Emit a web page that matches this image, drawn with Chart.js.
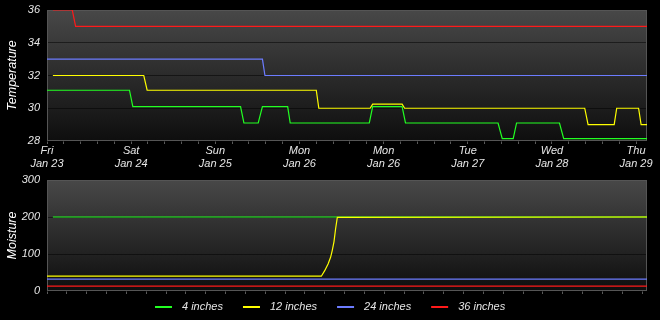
<!DOCTYPE html>
<html>
<head>
<meta charset="utf-8">
<script src="https://cdn.jsdelivr.net/npm/chart.js@4.4.1/dist/chart.umd.min.js"></script>
<style>
    html, body { margin: 0; padding: 0; background: #000; overflow: hidden; }
    #wrap { position: relative; width: 660px; height: 320px; }
    canvas { position: absolute; left: 0; }
    #tempChart { top: 0; }
    #moistChart { top: 170px; }
</style>
</head>
<body>
<div id="wrap">
    <canvas id="tempChart" width="660" height="170"></canvas>
    <canvas id="moistChart" width="660" height="150"></canvas>
</div>
<script>
const dayNames = ['Fri', 'Sat', 'Sun', 'Mon', 'Mon', 'Tue', 'Wed', 'Thu'];
const dayDates = ['Jan 23', 'Jan 24', 'Jan 25', 'Jan 26', 'Jan 26', 'Jan 27', 'Jan 28', 'Jan 29'];
const seriesNames = ['4 inches', '12 inches', '24 inches', '36 inches'];
const seriesColors = ['#22ff22', '#ffff00', '#6c7cff', '#ff1a1a'];

const tempTicks = [28, 30, 32, 34, 36];
const moistTicks = [0, 100, 200, 300];

// x = days since Fri Jan 23 00:00
const temp4Days = [0, 0.98, 1.02, 2.30, 2.34, 2.51, 2.56, 2.86, 2.89, 3.83, 3.87, 4.22, 4.26, 5.36, 5.41, 5.54, 5.58, 6.09, 6.14, 7.13];
const temp4Vals = [31.1, 31.1, 30.1, 30.1, 29.1, 29.1, 30.1, 30.1, 29.1, 29.1, 30.1, 30.1, 29.1, 29.1, 28.15, 28.15, 29.1, 29.1, 28.15, 28.15];
const temp12Days = [0.07, 1.15, 1.19, 3.20, 3.23, 3.84, 3.87, 4.22, 4.25, 6.39, 6.43, 6.74, 6.77, 7.03, 7.06, 7.13];
const temp12Vals = [32, 32, 31.1, 31.1, 30, 30, 30.25, 30.25, 30, 30, 29, 29, 30, 30, 29, 29];
const temp24Days = [0, 2.56, 2.59, 7.13];
const temp24Vals = [33, 33, 32, 32];
const temp36Days = [0.07, 0.30, 0.34, 7.13];
const temp36Vals = [36, 36, 35, 35];

const moist4Days = [0.07, 7.13];
const moist4Vals = [200, 200];
const moist12Days = [0, 3.26, 3.30, 3.34, 3.37, 3.39, 3.41, 3.43, 3.45, 7.13];
const moist12Vals = [40, 40, 55, 73, 91, 110, 133, 169, 199, 200];
const moist24Days = [0, 7.13];
const moist24Vals = [32, 32];
const moist36Days = [0, 7.13];
const moist36Vals = [13, 13];

const DAY_END = 7.13;
const TEMP_TICK_STEP = 0.2;     // minor tick every fifth of a day
const MOIST_TICK_STEP = 0.2357;

const FONT_FAMILY = "'Liberation Sans', Arial, sans-serif";
const LABEL_FONT = { family: FONT_FAMILY, style: 'italic', size: 11 };
const TITLE_FONT = { family: FONT_FAMILY, style: 'italic', size: 12.5 };
const TEXT_COLOR = '#e6e6e6';

const LEGEND_LINE = 17;
const LEGEND_GAP = 10;
const LEGEND_SPACING = 20;

function points(days, vals) {
    return days.map((d, i) => ({ x: d, y: vals[i] }));
}

function lineDataset(index, days, vals, order) {
    return {
        label: seriesNames[index],
        data: points(days, vals),
        borderColor: seriesColors[index],
        backgroundColor: seriesColors[index],
        borderWidth: 1.2,
        pointRadius: 0,
        tension: 0,
        fill: false,
        order: order || 0
    };
}

const plotBackground = {
    id: 'plotBackground',
    beforeDraw(chart) {
        const { ctx, chartArea: a } = chart;
        const g = ctx.createLinearGradient(0, a.top, 0, a.bottom);
        g.addColorStop(0, '#484848');
        g.addColorStop(1, '#0e0e0e');
        ctx.save();
        ctx.fillStyle = g;
        ctx.fillRect(a.left, a.top, a.right - a.left, a.bottom - a.top);
        ctx.restore();
    },
    beforeDatasetsDraw(chart) {
        const { ctx, chartArea: a } = chart;
        ctx.save();
        ctx.strokeStyle = '#555';
        ctx.lineWidth = 1;
        ctx.strokeRect(a.left + 0.5, a.top + 0.5, a.right - a.left - 1, a.bottom - a.top - 1);
        ctx.restore();
    }
};

const lineLegend = {
    id: 'lineLegend',
    afterDraw(chart) {
        const ctx = chart.ctx;
        const sets = chart.data.datasets;
        ctx.save();
        ctx.font = `italic 11px ${FONT_FAMILY}`;
        ctx.textBaseline = 'middle';
        const widths = sets.map(ds => LEGEND_LINE + LEGEND_GAP + ctx.measureText(ds.label).width);
        const total = widths.reduce((a, b) => a + b, 0) + LEGEND_SPACING * (sets.length - 1);
        let x = Math.round((chart.width - total) / 2);
        const y = chart.height - 13;
        sets.forEach((ds, i) => {
            ctx.fillStyle = ds.borderColor;
            ctx.fillRect(x, y - 1, LEGEND_LINE, 2);
            ctx.fillStyle = TEXT_COLOR;
            ctx.fillText(ds.label, x + LEGEND_LINE + LEGEND_GAP, y);
            x += widths[i] + LEGEND_SPACING;
        });
        ctx.restore();
    }
};

function dayTicks(step, count) {
    return Array.from({ length: count }, (_, i) => ({ value: +(i * step).toFixed(4) }));
}

function xScale(step, count, showLabels, height) {
    return {
        type: 'linear',
        min: 0,
        max: DAY_END,
        afterBuildTicks: s => { s.ticks = dayTicks(step, count); },
        afterFit: s => { s.height = height; },
        border: { display: false },
        grid: { drawOnChartArea: false, drawTicks: true, tickLength: 3, color: '#5a5a5a' },
        ticks: {
            display: showLabels,
            autoSkip: false,
            maxRotation: 0,
            minRotation: 0,
            padding: 0,
            color: TEXT_COLOR,
            font: LABEL_FONT,
            callback: v => {
                const i = Math.round(v);
                return Math.abs(v - i) < 1e-6 && dayNames[i] ? [dayNames[i], dayDates[i]] : '';
            }
        }
    };
}

function yScale(tickValues, title) {
    return {
        type: 'linear',
        min: tickValues[0],
        max: tickValues[tickValues.length - 1],
        afterBuildTicks: s => { s.ticks = tickValues.map(v => ({ value: v })); },
        afterFit: s => { s.width = 47; },
        border: { display: false },
        // invisible tick marks keep the labels off the frame without padding the top
        grid: { color: 'rgba(0,0,0,0.5)', drawTicks: true, tickLength: 7, tickColor: 'rgba(0,0,0,0)' },
        ticks: { color: TEXT_COLOR, font: LABEL_FONT, padding: 0 },
        title: { display: true, text: title, color: '#fff', font: TITLE_FONT, padding: { top: 5.5, bottom: 0 } }
    };
}

function baseOptions(padding, scales) {
    return {
        responsive: false,
        animation: false,
        devicePixelRatio: 1,
        events: [],
        layout: { padding },
        plugins: { legend: { display: false }, tooltip: { enabled: false } },
        scales
    };
}

new Chart(document.getElementById('tempChart'), {
    type: 'line',
    data: {
        datasets: [
            lineDataset(0, temp4Days, temp4Vals),
            lineDataset(1, temp12Days, temp12Vals),
            lineDataset(2, temp24Days, temp24Vals),
            lineDataset(3, temp36Days, temp36Vals)
        ]
    },
    options: baseOptions(
        { top: 10, right: 13, bottom: 0, left: 0 },
        { x: xScale(TEMP_TICK_STEP, 36, true, 29), y: yScale(tempTicks, 'Temperature') }
    ),
    plugins: [plotBackground]
});

new Chart(document.getElementById('moistChart'), {
    type: 'line',
    data: {
        datasets: [
            lineDataset(0, moist4Days, moist4Vals, 1),
            lineDataset(1, moist12Days, moist12Vals, 0),
            lineDataset(2, moist24Days, moist24Vals, 2),
            lineDataset(3, moist36Days, moist36Vals, 3)
        ]
    },
    options: baseOptions(
        { top: 10, right: 13, bottom: 23, left: 0 },
        { x: xScale(MOIST_TICK_STEP, 31, false, 6), y: yScale(moistTicks, 'Moisture') }
    ),
    plugins: [plotBackground, lineLegend]
});
</script>
</body>
</html>
